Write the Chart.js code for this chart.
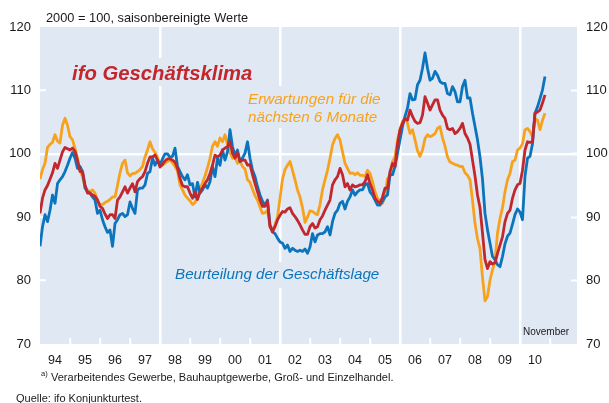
<!DOCTYPE html>
<html>
<head>
<meta charset="utf-8">
<script src="https://cdn.jsdelivr.net/npm/chart.js@4/dist/chart.umd.min.js"></script>
<style>
  html, body { margin: 0; padding: 0; background: #fff; }
  #wrap { width: 609px; height: 403px; }
</style>
</head>
<body>
<div id="wrap"><canvas id="chart" width="609" height="403"></canvas></div>
<script>
// Monatswerte ab Januar 1994 bis November 2010 (2000 = 100)
const startYear = 1994;

const klima = [
  90.6, 93.0, 94.3, 95.0, 96.0, 97.0, 98.5, 97.7, 99.0, 100.3, 101.0, 100.8,
  100.6, 100.9, 100.4, 99.0, 97.2, 97.2, 95.1, 93.8, 93.8, 93.5, 93.3, 92.7,
  91.7, 91.4, 90.5, 89.8, 90.4, 90.4, 89.8, 92.7, 93.2, 94.0, 94.8, 93.8,
  94.6, 95.3, 94.0, 95.6, 96.1, 96.4, 97.2, 98.5, 99.5, 99.5, 99.8, 99.0,
  97.9, 98.3, 98.9, 99.2, 99.2, 99.0, 98.7, 97.7, 96.1, 95.0, 94.8, 94.8,
  93.8, 93.0, 94.0, 92.8, 94.0, 94.6, 95.3, 95.9, 96.9, 98.2, 99.8, 99.5,
  99.8, 100.6, 100.9, 101.1, 101.9, 100.1, 99.3, 100.1, 98.8, 99.0, 99.0, 98.2,
  98.3, 96.7, 95.3, 94.0, 92.7, 91.7, 91.7, 92.5, 88.5, 87.7, 88.5, 89.6,
  90.3, 90.9, 90.8, 91.3, 91.5, 90.6, 90.1, 89.5, 88.8, 88.0, 87.3, 87.3,
  88.5, 89.0, 88.3, 88.5, 89.6, 90.2, 91.1, 91.9, 92.7, 95.1, 95.9, 96.4,
  97.7, 96.7, 94.8, 95.3, 94.3, 95.1, 94.8, 94.9, 95.1, 95.1, 95.6, 96.7,
  95.3, 94.3, 93.0, 92.5, 92.2, 93.2, 94.6, 94.6, 97.2, 98.5, 98.0, 101.5,
  103.8, 104.8, 105.6, 105.3, 106.9, 105.9, 105.1, 104.8, 104.9, 106.1, 109.0, 108.0,
  106.9, 107.7, 108.5, 108.5, 106.9, 106.1, 105.6, 104.0, 103.8, 104.0, 103.2, 103.5,
  104.0, 104.8, 103.2, 102.5, 101.5, 99.0, 96.5, 93.5, 91.5, 87.5, 83.3, 81.9,
  83.0, 82.6, 82.8, 84.3, 85.6, 86.9, 89.3, 90.6, 91.1, 93.0, 94.3, 95.1,
  95.3, 97.4, 100.6, 101.9, 101.8, 101.9, 106.4, 106.6, 106.9, 108.0, 109.3
];

const lage = [
  85.4, 88.5, 90.4, 89.3, 91.1, 93.5, 92.2, 95.3, 95.9, 96.4, 97.2, 98.2,
  99.3, 100.2, 99.3, 97.7, 98.0, 97.2, 94.6, 94.0, 93.8, 93.2, 92.7, 90.6,
  91.1, 89.6, 88.5, 87.6, 88.0, 85.4, 89.0, 89.6, 90.4, 90.6, 90.1, 90.4,
  92.4, 91.4, 90.6, 94.3, 94.6, 94.6, 95.1, 96.9, 97.2, 99.3, 98.2, 99.0,
  98.2, 99.2, 100.0, 100.0, 99.4, 99.6, 100.9, 98.0, 97.2, 96.4, 95.9, 96.7,
  95.1, 95.3, 93.2, 95.5, 93.8, 94.3, 95.1, 94.6, 95.6, 98.0, 96.4, 99.3,
  98.2, 100.6, 99.0, 100.3, 103.8, 101.1, 99.8, 100.6, 98.8, 99.3, 100.1, 101.9,
  99.3, 97.4, 96.4, 94.8, 93.5, 92.5, 91.9, 92.7, 88.8, 87.7, 87.4, 86.7,
  86.1, 85.9, 85.1, 85.6, 84.6, 85.1, 84.8, 84.6, 84.8, 84.6, 85.0, 84.3,
  85.3, 87.4, 86.1, 87.2, 87.4, 87.4, 87.7, 88.5, 87.2, 89.3, 90.6, 91.1,
  92.2, 92.5, 91.3, 92.5, 93.2, 94.3, 93.5, 94.0, 94.3, 94.3, 95.1, 95.3,
  94.0, 93.5, 92.7, 91.9, 91.9, 92.5, 93.2, 93.5, 96.7, 96.7, 98.0, 100.1,
  102.2, 104.3, 105.9, 107.2, 109.5, 108.5, 108.6, 110.9, 111.6, 113.5, 115.9, 113.5,
  111.6, 111.9, 113.0, 112.4, 111.4, 111.1, 111.1, 109.5, 109.3, 110.6, 109.8, 108.2,
  108.2, 110.6, 111.6, 108.8, 108.8, 106.4, 104.3, 102.2, 99.5, 96.0, 90.6, 88.0,
  85.9, 83.8, 83.3, 82.5, 82.2, 83.8, 85.8, 87.0, 87.5, 88.9, 90.4, 91.3,
  90.8, 89.6, 96.5, 99.3, 99.6, 101.6, 106.4, 107.4, 108.7, 110.1, 112.2
];

const erwartungen = [
  96.0, 97.5, 98.5, 101.0, 101.5, 101.8, 103.0, 102.0, 101.7, 104.5, 105.6, 104.5,
  102.7, 102.2, 100.9, 99.3, 97.4, 96.4, 94.8, 94.3, 94.0, 94.3, 93.8, 92.7,
  92.0, 92.0, 92.3, 92.5, 92.8, 93.2, 93.2, 95.0, 97.0, 98.5, 99.0, 97.0,
  96.5, 96.9, 96.9, 97.2, 97.5, 98.0, 99.5, 100.6, 101.9, 100.8, 100.2, 99.5,
  98.2, 98.2, 98.5, 98.8, 99.0, 98.6, 98.0, 97.3, 95.1, 94.3, 93.5, 93.0,
  92.6, 92.0, 92.3, 93.3, 94.4, 95.4, 96.5, 97.8, 99.3, 101.2, 101.9, 101.2,
  102.5, 101.9, 103.0, 101.4, 100.2, 99.3, 99.5, 98.5, 98.8, 98.0, 97.6, 95.9,
  95.5, 94.4, 93.4, 92.7, 91.6, 90.6, 90.7, 91.1, 88.5, 88.0, 88.8, 90.0,
  93.0, 96.0, 97.5, 98.2, 98.8, 97.4, 95.9, 94.3, 93.2, 91.5, 89.2, 90.0,
  91.0, 90.9, 90.6, 90.4, 92.0, 94.3, 95.9, 97.4, 99.3, 101.4, 102.4, 103.0,
  102.2, 100.3, 98.5, 97.7, 96.9, 97.0, 96.7, 97.0, 96.6, 96.6, 96.4, 97.4,
  96.9, 95.6, 94.0, 93.0, 92.5, 92.2, 93.2, 96.1, 96.4, 98.8, 99.5, 102.2,
  103.8, 105.1, 105.6, 104.8, 103.2, 103.8, 102.2, 100.5, 99.6, 100.6, 102.4, 103.0,
  102.7, 102.9, 103.2, 104.0, 104.3, 102.5, 101.2, 99.5, 98.7, 98.5, 98.3, 98.2,
  98.0, 98.0, 97.0, 96.6, 95.9, 92.7, 89.0, 86.6, 85.0, 80.5, 76.8, 77.5,
  80.1, 81.7, 83.0, 87.5, 89.8, 91.5, 94.0, 95.9, 96.9, 98.8, 99.0, 100.6,
  100.9, 101.6, 103.8, 104.0, 103.5, 102.7, 105.6, 105.3, 103.8, 105.3, 106.4
];

const yTicks = [70, 80, 90, 100, 110, 120];
const yearTicks = [1994, 1995, 1996, 1997, 1998, 1999, 2000, 2001, 2002,
                   2003, 2004, 2005, 2006, 2007, 2008, 2009, 2010, 2011];
const frameYears = [1998, 2002, 2006, 2010];

const fontFamily = '"Liberation Sans", Arial, Helvetica, sans-serif';
const plotBg = '#E0E8F3';
const red = '#C1272D';
const orange = '#F7A21D';
const blue = '#0B74BD';
const clear = 'rgba(0,0,0,0)';

function toPoints(values) {
    return values.map((v, i) => ({ x: startYear + i / 12, y: v }));
}

function tickValue(c) {
    return c.tick ? c.tick.value : null;
}

// Hintergrund, Beschriftungen im Diagramm, Fußnoten
const notes = {
    id: "notes",
    beforeDraw(chart) {
        const { ctx, chartArea: a } = chart;
        ctx.save();
        ctx.fillStyle = plotBg;
        ctx.fillRect(a.left, a.top, a.right - a.left, a.bottom - a.top);
        ctx.restore();
    },
    beforeDatasetsDraw(chart) {
        const ctx = chart.ctx;
        ctx.save();
        ctx.textBaseline = "alphabetic";
        ctx.textAlign = "left";

        function boxed(lines, x, baselines, font, color, top, bottom) {
            ctx.font = font;
            let w = 0;
            lines.forEach(t => { w = Math.max(w, ctx.measureText(t).width); });
            ctx.fillStyle = plotBg;
            ctx.fillRect(x - 6, top, w + 12, bottom - top);
            ctx.fillStyle = color;
            lines.forEach((t, i) => ctx.fillText(t, x, baselines[i]));
        }

        boxed(["ifo Geschäftsklima"], 72, [80], "italic bold 20.3px " + fontFamily, red, 58, 86);
        boxed(["Erwartungen für die", "nächsten 6 Monate"], 248, [104, 122], "italic 15.2px " + fontFamily, orange, 86, 128);
        boxed(["Beurteilung der Geschäftslage"], 175, [279], "italic 15.2px " + fontFamily, blue, 262, 288);
        ctx.restore();
    },
    afterDraw(chart) {
        const ctx = chart.ctx;
        ctx.save();
        ctx.textBaseline = "alphabetic";
        ctx.textAlign = "left";
        ctx.fillStyle = "#1a1a1a";
        ctx.font = "12.8px " + fontFamily;
        ctx.fillText("2000 = 100, saisonbereinigte Werte", 46, 22);

        ctx.font = "10px " + fontFamily;
        ctx.fillText("November", 523, 335);

        ctx.font = "7.5px " + fontFamily;
        ctx.fillText("a)", 41, 376);
        ctx.font = "11px " + fontFamily;
        ctx.fillText("Verarbeitendes Gewerbe, Bauhauptgewerbe, Groß- und Einzelhandel.", 51, 381);
        ctx.fillText("Quelle: ifo Konjunkturtest.", 16, 402);
        ctx.restore();
    }
};

const ctx = document.getElementById("chart").getContext("2d");

new Chart(ctx, {
    type: "line",
    data: {
        datasets: [
            { label: "ifo Geschäftsklima", data: toPoints(klima), borderColor: red },
            { label: "Beurteilung der Geschäftslage", data: toPoints(lage), borderColor: blue },
            { label: "Erwartungen für die nächsten 6 Monate", data: toPoints(erwartungen), borderColor: orange }
        ]
    },
    options: {
        responsive: false,
        animation: false,
        layout: { padding: { top: 27, left: 0, right: 0, bottom: 0 } },
        elements: {
            line: { borderWidth: 2.8, tension: 0, borderJoinStyle: "round", fill: false },
            point: { radius: 0, hoverRadius: 0 }
        },
        plugins: {
            legend: { display: false },
            tooltip: { enabled: false }
        },
        scales: {
            x: {
                type: "linear",
                min: 1994,
                max: 2011.9,
                afterBuildTicks: s => { s.ticks = yearTicks.map(v => ({ value: v })); },
                afterFit: s => { s.height = 59; },
                border: { display: false },
                grid: {
                    color: c => frameYears.includes(tickValue(c)) ? "#fff" : clear,
                    lineWidth: 2.5,
                    drawTicks: true,
                    tickLength: -6,
                    tickWidth: 2,
                    tickColor: c => tickValue(c) === 1994 ? clear : "#fff"
                },
                ticks: {
                    autoSkip: false,
                    maxRotation: 0,
                    padding: 15,
                    labelOffset: 15,
                    color: "#1a1a1a",
                    font: { family: fontFamily, size: 12.5 },
                    callback: v => v <= 2010 ? String(v).slice(2) : ""
                }
            },
            y: {
                position: "left",
                min: 70,
                max: 120,
                afterBuildTicks: s => { s.ticks = yTicks.map(v => ({ value: v })); },
                afterFit: s => { s.width = 40; },
                border: { display: false },
                grid: {
                    color: c => tickValue(c) === 100 ? "#fff" : clear,
                    lineWidth: 2.5,
                    drawTicks: true,
                    tickLength: -6,
                    tickWidth: 2,
                    tickColor: c => (tickValue(c) === 70 || tickValue(c) === 120) ? clear : "#fff"
                },
                ticks: {
                    padding: 15,
                    color: "#1a1a1a",
                    font: { family: fontFamily, size: 13 }
                }
            },
            y2: {
                position: "right",
                min: 70,
                max: 120,
                afterBuildTicks: s => { s.ticks = yTicks.map(v => ({ value: v })); },
                afterFit: s => { s.width = 32; },
                border: { display: false },
                grid: {
                    drawOnChartArea: false,
                    drawTicks: true,
                    tickLength: -6,
                    tickWidth: 2,
                    tickColor: c => (tickValue(c) === 70 || tickValue(c) === 120) ? clear : "#fff"
                },
                ticks: {
                    padding: 15,
                    color: "#1a1a1a",
                    font: { family: fontFamily, size: 13 }
                }
            }
        }
    },
    plugins: [notes]
});
</script>
</body>
</html>
